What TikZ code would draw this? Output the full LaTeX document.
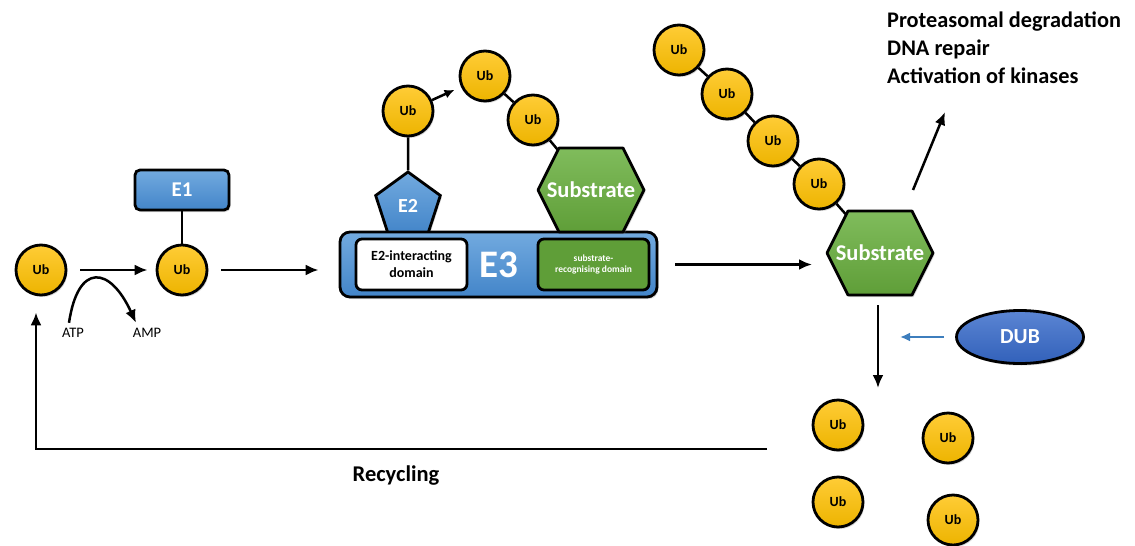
\documentclass[tikz,border=0pt]{standalone}
\usepackage{fontspec}
\setmainfont{Carlito}
\usetikzlibrary{arrows.meta,positioning,calc,shapes.geometric,shadows}
\definecolor{UbTop}{HTML}{FFCC36}
\definecolor{UbBottom}{HTML}{EDB400}
\definecolor{BlueTop}{HTML}{72AADF}
\definecolor{BlueBottom}{HTML}{4385C9}
\definecolor{GreenTop}{HTML}{80BC5C}
\definecolor{GreenBottom}{HTML}{5F9E38}
\definecolor{DubTop}{HTML}{5B85D3}
\definecolor{DubBottom}{HTML}{3261BA}
\definecolor{DubArrow}{HTML}{3D7EBD}
\newcommand\pt[1]{\fontsize{#1}{1.2\dimexpr#1pt\relax}\selectfont}
\tikzset{
  softshadow/.style={drop shadow={shadow xshift=1.5pt,shadow yshift=-2pt,opacity=.3}},
  ub/.style={circle,draw,line width=2.8pt,minimum size=50pt,inner sep=0pt,
             top color=UbTop,bottom color=UbBottom,font=\pt{14}\bfseries,softshadow},
  bluebox/.style={draw,line width=2.8pt,rounded corners=5pt,top color=BlueTop,
             bottom color=BlueBottom,text=white,font=\bfseries,softshadow},
  e2shape/.style={regular polygon,regular polygon sides=5,minimum size=68pt,
             inner sep=0pt,draw,line width=2.8pt,top color=BlueTop,
             bottom color=BlueBottom,text=white,font=\pt{20}\bfseries,softshadow},
  domainbox/.style={draw,line width=2.8pt,rounded corners=6pt,minimum width=111pt,
             minimum height=51pt,align=center,inner sep=1pt},
  substbody/.style={draw,line width=2.8pt,line join=round,top color=GreenTop,
             bottom color=GreenBottom,softshadow},
  substlabel/.style={text=white,font=\pt{22.5}\bfseries,inner sep=0pt},
  dubshape/.style={ellipse,draw,line width=2.8pt,minimum width=127pt,
             minimum height=53pt,top color=DubTop,bottom color=DubBottom,
             text=white,font=\pt{21.5}\bfseries,softshadow},
  link/.style={line width=2.5pt},
  flow/.style={-{Latex[length=13pt,width=11pt]},line width=2.5pt},
  dubflow/.style={-{Latex[length=10pt,width=9pt]},line width=2.2pt,draw=DubArrow},
  note/.style={font=\pt{14.5}},
  fates/.style={font=\fontsize{22.3}{28}\selectfont\bfseries,align=left,inner sep=0pt}
}
% hexagonal substrate: name, centre
\newcommand\substrate[2]{%
  \draw[substbody] ($(#2)+(-53,0)$) -- ++(21,-42) -- ++(64,0) -- ++(21,42)
    -- ++(-21,42) -- ++(-64,0) -- cycle;
  \coordinate (#1-nw) at ($(#2)+(-32,-42)$);
  \coordinate (#1-ne) at ($(#2)+(32,-42)$);
  \coordinate (#1-w) at ($(#2)+(-53,0)$);
  \coordinate (#1-s) at ($(#2)+(0,43)$);
  \node[substlabel] (#1) at (#2) {Substrate};}

\begin{document}
\begin{tikzpicture}[x=1pt,y=-1pt]
  \useasboundingbox (0,0) rectangle (1135,546);

  % activation by E1
  \node[ub] (ub1) at (41,270) {Ub};
  \node[ub] (ub2) at (182,270) {Ub};
  \node[bluebox,minimum width=94pt,minimum height=40pt,font=\pt{21}\bfseries] (e1) at (182,190) {E1};
  \draw[link] (e1) -- (ub2);
  \node[note] (atp) at (73,333) {ATP};
  \node[note] (amp) at (147,333) {AMP};
  \draw[flow,shorten <=13pt,shorten >=8pt] (ub1) -- (ub2);
  \draw[flow] ([xshift=-4pt,yshift=2pt]atp.north) .. controls (78,262) and (110,266) .. ([xshift=-11pt,yshift=2pt]amp.north);

  % E2 / E3 complex
  \node[e2shape] (e2) at (408,206) {E2};
  \node[bluebox,minimum width=317pt,minimum height=65pt,rounded corners=10pt,font=\pt{39}\bfseries] (e3) at (498.5,264.5) {E3};
  \node[domainbox,fill=white,font=\pt{14}\bfseries] (e2dom) at (411.5,264.5) {E2-interacting\\domain};
  \node[domainbox,fill=GreenBottom,text=white,font=\pt{9.5}\bfseries] (subdom) at (593.5,264.5) {substrate-\\recognising domain};
  \draw[flow,shorten <=13pt,shorten >=20pt] (ub2) -- (ub2 -| e3.west);

  \node[ub] (ub3) at (408,111) {Ub};
  \node[ub] (ub4) at (485,76) {Ub};
  \node[ub] (ub5) at (533,120) {Ub};
  \draw[link] (e2.north) -- (ub3);
  \draw[-{Latex[length=10pt,width=9pt]},line width=2.5pt,shorten >=7pt] (ub3) -- (ub4);
  \draw[link] (ub4) -- (ub5);
  \draw[link] (ub5) -- (591,190);
  \substrate{sub1}{591,190}

  % polyubiquitinated substrate
  \node[ub] (ub6) at (679,50) {Ub};
  \node[ub] (ub7) at (727,94) {Ub};
  \node[ub] (ub8) at (773,141) {Ub};
  \node[ub] (ub9) at (819,184) {Ub};
  \draw[link] (ub6) -- (ub7) -- (ub8) -- (ub9) -- (880,253);
  \substrate{sub2}{880,253}
  \draw[flow,shorten <=17pt,shorten >=15pt] (e3.east) -- (e3.east -| sub2-w);

  \node[fates,anchor=north west] (fates) at (887,12) {Proteasomal degradation\\DNA repair\\Activation of kinases};
  \coordinate (fate) at (945,112);
  \draw[flow] ($(sub2-ne)+(1,-21)$) -- (fate);

  % deubiquitination
  \coordinate (release) at (878,388);
  \draw[flow,shorten <=9pt] (sub2-s -| release) -- (release);
  \node[dubshape] (dub) at (1020,337) {DUB};
  \draw[dubflow,shorten <=11pt,shorten >=22pt] (dub.west) -- (dub.west -| release);

  \node[ub] (free1) at (838,425) {Ub};
  \node[ub] (free2) at (948,438) {Ub};
  \node[ub] (free3) at (838,502) {Ub};
  \node[ub] (free4) at (953,520) {Ub};

  % back to the free pool
  \coordinate (recycle) at (767,449);
  \draw[flow] (recycle) -| ([xshift=-5pt,yshift=-16pt]ub1.south);
  \node[font=\pt{22.5}\bfseries] (recycling) at (396,476) {Recycling};
\end{tikzpicture}
\end{document}
